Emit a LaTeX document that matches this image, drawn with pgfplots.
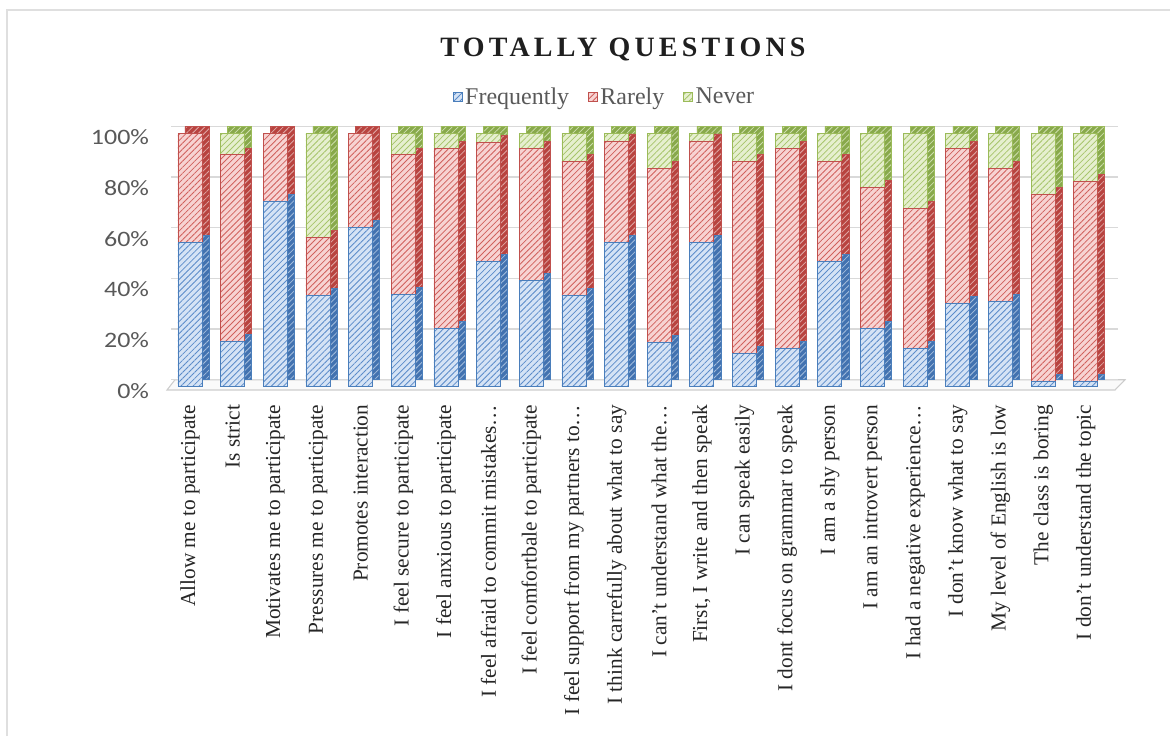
\documentclass[border=0pt]{standalone}
\usepackage{pgfplots}
\pgfplotsset{compat=1.18}
\usepackage{pgfplotstable}
\usepackage{fontspec}
\setmainfont{Liberation Serif}
\newfontfamily\carlito[FakeStretch=1.18]{Carlito}
\newfontfamily\titlefont[LetterSpace=15]{Liberation Serif}
\usetikzlibrary{patterns.meta}

\definecolor{bluefill}{HTML}{D5E3F5}
\definecolor{bluehatch}{HTML}{5B8BC9}
\definecolor{blueedge}{HTML}{4A7EBB}
\definecolor{blueside}{HTML}{4272B0}
\definecolor{redfill}{HTML}{F7D3D2}
\definecolor{redhatch}{HTML}{D0605C}
\definecolor{rededge}{HTML}{C0504D}
\definecolor{redside}{HTML}{B8433F}
\definecolor{greenfill}{HTML}{E6EFCF}
\definecolor{greenhatch}{HTML}{A6C46A}
\definecolor{greenedge}{HTML}{9BBB59}
\definecolor{greenside}{HTML}{88A94B}
\definecolor{tickgray}{HTML}{595959}

\pgfplotstableread{
x F R N
0 57 43 0
1 18 73.5 8.5
2 73 27 0
3 36 23 41
4 63 37 0
5 36.5 55 8.5
6 23 71 6
7 49.5 47 3.5
8 42 52 6
9 36 53 11
10 57 40 3
11 17.5 68.5 14
12 57 40 3
13 13 76 11
14 15 79 6
15 49.5 39.5 11
16 23 55.5 21.5
17 15 55.5 29.5
18 33 61 6
19 33.5 52.5 14
20 2 74 24
21 2 79 19
}\datatable

\tikzset{hatch/.style={postaction={pattern={Lines[angle=45,distance=3.2pt,line width=0.6pt]},pattern color=#1}}}

\pgfplotsset{
  myaxis/.style={
    scale only axis,
    width=710.25pt, height=190.05pt,
    xmin=-0.6, xmax=21.6, ymin=0, ymax=100,
    ybar stacked, bar width=18pt,
    axis line style={draw=none},
    major tick length=0pt,
  }
}

\begin{document}
\begin{tikzpicture}
\useasboundingbox (0,0) rectangle (877.5pt,552pt);
% frame
\draw[gray!25, line width=1.2pt] (5.25pt,0pt) -- (5.25pt,544.5pt) -- (877.5pt,544.5pt);
% title
\node[font=\titlefont\bfseries\fontsize{21}{25}\selectfont, text=black!88] at (467.25pt,514.5pt) {TOTALLY QUESTIONS};
% floor
\draw[gray!40, line width=0.8pt, fill=gray!4] (125.25pt,259.5pt) -- (836.25pt,259.5pt) -- (843.75pt,267.2pt) -- (131.25pt,267.2pt) -- cycle;

% back axis: grid + side faces
\begin{axis}[myaxis,
  at={(128.55pt,267.225pt)}, anchor=south west,
  ymajorgrids, grid style={gray!30, line width=0.9pt},
  ytick={0,20,...,100}, yticklabels={}, xtick=\empty,
]
\addplot[fill=blueside, draw=blueedge, line width=0.5pt, hatch=blueedge!50!white] table[x=x,y=F]{\datatable};
\addplot[fill=redside, draw=rededge, line width=0.5pt, hatch=rededge!50!white] table[x=x,y=R]{\datatable};
\addplot[fill=greenside, draw=greenedge, line width=0.5pt, hatch=greenedge!50!white] table[x=x,y=N]{\datatable};
\end{axis}

% front axis
\begin{axis}[myaxis,
  at={(123.3pt,261.975pt)}, anchor=south west,
  ytick={0,20,...,100},
  yticklabels={0\%,20\%,40\%,60\%,80\%,100\%},
  yticklabel style={font=\carlito\fontsize{16.5}{18}\selectfont, text=tickgray, yshift=-3pt},
  yticklabel shift=8pt,
  xtick={0,...,21},
  xticklabels={Allow me to participate, Is strict, Motivates me to participate, Pressures me to participate, Promotes interaction, I feel secure to participate, I feel anxious to participate, {I feel afraid to commit mistakes\ldots}, I feel comfortbale to participate, {I feel support from my partners to\ldots}, I think carrefully about what to say, {I can't understand what the\ldots}, {First, I write and then speak}, I can speak easily, I dont focus on grammar to speak, I am a shy person, I am an introvert person, {I had a negative experience\ldots}, I don't know what to say, My level of English is low, The class is boring, I don't understand the topic},
  xticklabel style={rotate=90, anchor=east, font=\fontsize{16}{18}\selectfont, text=black!85},
  xticklabel shift=10pt,
  legend columns=3,
  legend style={draw=none, fill=none, at={(0.465,1.143)}, anchor=center,
    font=\fontsize{18}{20}\selectfont, text=tickgray,
    /tikz/every even column/.append style={column sep=12pt}},
  legend image code/.code={\draw[#1] (0pt,-3.4pt) rectangle (6.8pt,3.4pt);},
]
\addplot[fill=bluefill, draw=blueedge, line width=0.6pt, hatch=bluehatch] table[x=x,y=F]{\datatable};
\addplot[fill=redfill, draw=rededge, line width=0.6pt, hatch=redhatch] table[x=x,y=R]{\datatable};
\addplot[fill=greenfill, draw=greenedge, line width=0.6pt, hatch=greenhatch] table[x=x,y=N]{\datatable};
\legend{Frequently, Rarely, Never}
\end{axis}
\end{tikzpicture}
\end{document}
